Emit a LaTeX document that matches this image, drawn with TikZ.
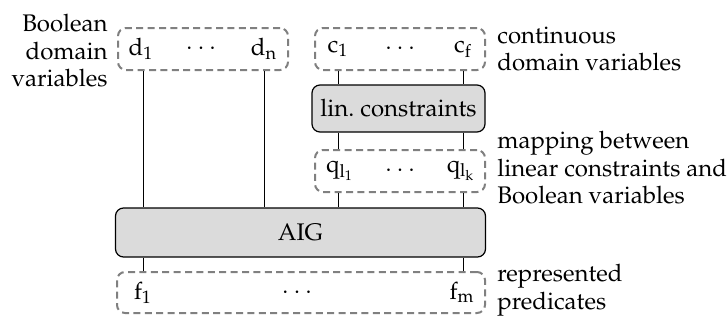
\documentclass[tikz,border=0pt]{standalone}
\usepackage[T1]{fontenc}
\usepackage{mathpazo}
\newcommand{\ev}[1]{\mathrm{#1}}
\begin{document}
\begin{tikzpicture}[x=0.5pt,y=-0.5pt,
  every node/.style={font=\fontsize{12}{13.75}\selectfont},
  varbox/.style={draw=gray, line width=1pt, dash pattern=on 3.5pt off 2.2pt, rounded corners=4pt, inner sep=0pt},
  procbox/.style={draw=black, line width=0.6pt, fill=gray!28, rounded corners=4pt, inner sep=0pt},
  elem/.style={inner sep=0pt},
  lbl/.style={align=left, inner sep=0pt},
  conn/.style={line width=0.5pt}]
\useasboundingbox (0,0) rectangle (728,321);
% boxes
\node[varbox, minimum width=85pt, minimum height=21pt] (dbox) at (203,49) {};
\node[varbox, minimum width=85pt, minimum height=21pt] (cbox) at (400,49) {};
\node[procbox, minimum width=86.5pt, minimum height=23.5pt] (lin) at (398.5,108.5) {lin.\ constraints};
\node[varbox, minimum width=85pt, minimum height=21pt] (qbox) at (400,171) {};
\node[procbox, minimum width=185pt, minimum height=24.5pt] (aig) at (300.5,232.5) {AIG};
\node[varbox, minimum width=184pt, minimum height=20.5pt] (fbox) at (301,292.5) {};
% elements
\node[elem] (d1) at (141,49) {$\ev{d}_{\ev{1}}$};
\node[elem] (dd) at (201,49) {$\cdots$};
\node[elem] (dn) at (264,49) {$\ev{d}_{\ev{n}}$};
\node[elem] (c1) at (338,49) {$\ev{c}_{\ev{1}}$};
\node[elem] (cd) at (400,49) {$\cdots$};
\node[elem] (cf) at (463,49) {$\ev{c}_{\ev{f}}$};
\node[elem] (q1) at (340,171) {$\ev{q}_{\ev{l}_{\ev{1}}}$};
\node[elem] (qd) at (400,171) {$\cdots$};
\node[elem] (qk) at (461,171) {$\ev{q}_{\ev{l}_{\ev{k}}}$};
\node[elem] (f1) at (143,292.5) {$\ev{f}_{\ev{1}}$};
\node[elem] (fd) at (297,292.5) {$\cdots$};
\node[elem] (fm) at (462,292.5) {$\ev{f}_{\ev{m}}$};
% labels
\node[lbl, align=right, anchor=east] (lbool) at (108,51) {Boolean\\domain\\variables};
\node[lbl, anchor=west] (lcont) at (497,49) {continuous\\domain variables};
\node[lbl, anchor=west] (lmap) at (497,168) {mapping between\\linear constraints and\\Boolean variables};
\node[lbl, anchor=west] (lpred) at (497,290) {represented\\predicates};
% connectors
\coordinate (xd1) at (143,0);
\coordinate (xdn) at (264,0);
\coordinate (xc1) at (338,0);
\coordinate (xcf) at (463,0);
\draw[conn] (xd1 |- dbox.south) -- (xd1 |- aig.north);
\draw[conn] (xdn |- dbox.south) -- (xdn |- aig.north);
\draw[conn] (xc1 |- cbox.south) -- (xc1 |- lin.north);
\draw[conn] (xcf |- cbox.south) -- (xcf |- lin.north);
\draw[conn] (xc1 |- lin.south) -- (xc1 |- qbox.north);
\draw[conn] (xcf |- lin.south) -- (xcf |- qbox.north);
\draw[conn] (xc1 |- qbox.south) -- (xc1 |- aig.north);
\draw[conn] (xcf |- qbox.south) -- (xcf |- aig.north);
\draw[conn] (xd1 |- aig.south) -- (xd1 |- fbox.north);
\draw[conn] (xcf |- aig.south) -- (xcf |- fbox.north);
\end{tikzpicture}
\end{document}
